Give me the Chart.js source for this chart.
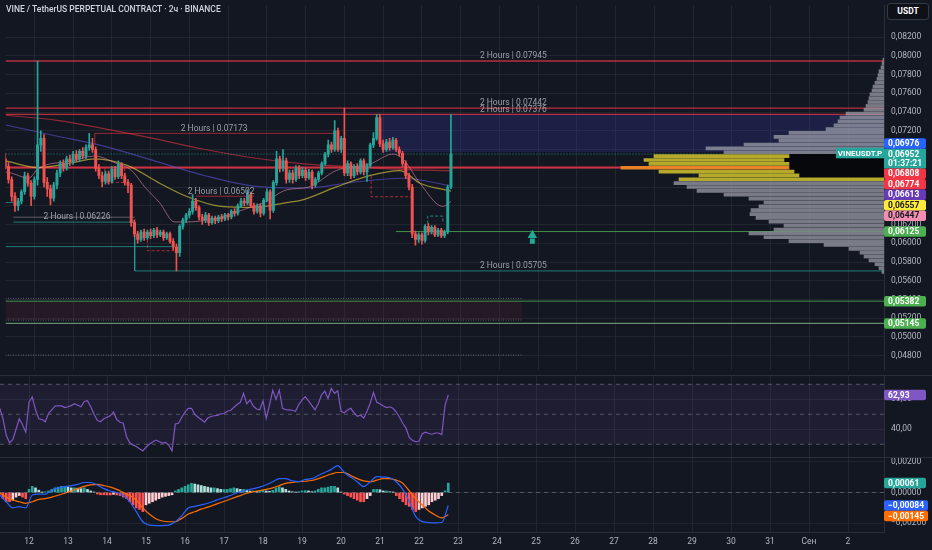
<!DOCTYPE html>
<html>
<head>
  <meta charset="utf-8">
  <title>VINE / TetherUS PERPETUAL CONTRACT · 2ч · BINANCE</title>
  <script src="https://cdn.jsdelivr.net/npm/chart.js"></script>
  <style>
    body { margin: 0; background: #131722; }
    #wrap { position: relative; width: 932px; height: 550px; overflow: hidden; background: #131722; font-family: Roboto, sans-serif; }
    .pane { position: absolute; left: 0; }
    .sep { position: absolute; left: 0; width: 932px; height: 1px; background: #2a2e39; }
    #title { position: absolute; left: 6px; top: 4px; font-size: 8.5px; font-weight: 500; color: #d1d4dc; white-space: nowrap; }
    #unit { position: absolute; left: 887px; top: 3px; width: 40px; height: 15px; border: 1px solid #363a45; border-radius: 3px; background: #0f1118; color: #fff; font-size: 8.5px; font-weight: 700; line-height: 15px; text-align: center; }
  </style>
</head>
<body>
<div id="wrap">
  <div class="pane" style="top:0;width:932px;height:375px"><canvas id="priceChart"></canvas></div>
  <div class="pane" style="top:0;width:884px;height:375px"><canvas id="profileChart"></canvas></div>
  <div class="pane" style="top:375px;width:932px;height:82px"><canvas id="rsiChart"></canvas></div>
  <div class="pane" style="top:457px;width:932px;height:93px"><canvas id="macdChart"></canvas></div>
  <div class="sep" style="top:375px"></div>
  <div class="sep" style="top:457px"></div>
  <div id="title">VINE / TetherUS PERPETUAL CONTRACT · 2ч · BINANCE</div>
  <div id="unit">USDT</div>
</div>

<script>
  const FONT = 'Roboto, "Noto Sans", sans-serif';
  const AXIS_TEXT = '#b2b5be';
  const GRID = 'rgba(42, 46, 57, 0.6)';
  const BORDER = '#2a2e39';
  const UP = '#26a69a';
  const DOWN = '#ef5350';

  // time axis: days of August, then "Сен" (Sep 1) and 2
  const X_MIN = 11.256;
  const X_MAX = 33.923;
  const tickDays = [12, 13, 14, 15, 16, 17, 18, 19, 20, 21, 22, 23, 24, 25, 26, 27, 28, 29, 30, 31, 32, 33];
  const tickLabels = ['12', '13', '14', '15', '16', '17', '18', '19', '20', '21', '22', '23', '24', '25', '26', '27', '28', '29', '30', '31', 'Сен', '2'];
  const candleStart = 11.25;  // Aug 11 06:00
  const candleStep = 1 / 12;  // 2h candles

  // price pane
  const P_MIN = 0.04653;
  const P_MAX = 0.08537;
  const priceTicks = [0.048, 0.05, 0.052, 0.054, 0.056, 0.058, 0.06, 0.062, 0.064, 0.066, 0.068, 0.07, 0.072, 0.074, 0.076, 0.078, 0.08, 0.082];

  const opens = [
    0.0690, 0.0682, 0.0668, 0.0650, 0.0640, 0.0645, 0.0655, 0.0672, 0.0664, 0.0650,
    0.0668, 0.0705, 0.0712, 0.0665, 0.0658, 0.0648, 0.0662, 0.0675, 0.0685, 0.0680,
    0.0690, 0.0687, 0.0695, 0.0690, 0.0698, 0.0693, 0.0702, 0.0705, 0.0700, 0.0680,
    0.0672, 0.0666, 0.0674, 0.0666, 0.0679, 0.0671, 0.0684, 0.0672, 0.0665, 0.0662,
    0.0622, 0.0610, 0.0604, 0.0612, 0.0606, 0.0612, 0.0608, 0.0614, 0.0609, 0.0612,
    0.0606, 0.0610, 0.0602, 0.0596, 0.0590, 0.0618, 0.0625, 0.0630, 0.0634, 0.0645,
    0.0638, 0.0628, 0.0625, 0.0630, 0.0622, 0.0627, 0.0624, 0.0628, 0.0626, 0.0630,
    0.0628, 0.0634, 0.0632, 0.0640, 0.0645, 0.0643, 0.0652, 0.0640, 0.0634, 0.0640,
    0.0632, 0.0646, 0.0655, 0.0635, 0.0665, 0.0690, 0.0680, 0.0688, 0.0668, 0.0675,
    0.0668, 0.0680, 0.0672, 0.0678, 0.0670, 0.0676, 0.0662, 0.0668, 0.0675, 0.0685,
    0.0695, 0.0705, 0.0700, 0.0720, 0.0700, 0.0712, 0.0675, 0.0685, 0.0672, 0.0682,
    0.0676, 0.0688, 0.0676, 0.0683, 0.0705, 0.0712, 0.0734, 0.0706, 0.0700, 0.0708,
    0.0702, 0.0710, 0.0700, 0.0696, 0.0685, 0.0672, 0.0660, 0.0610, 0.0604, 0.0609,
    0.0603, 0.0618, 0.0612, 0.0617, 0.0609, 0.0614, 0.0608, 0.0612, 0.0660
  ];
  const highs = [
    0.0696, 0.0686, 0.0671, 0.0654, 0.0648, 0.0657, 0.0676, 0.0675, 0.0667, 0.0671,
    0.07945, 0.0720, 0.0716, 0.0670, 0.0662, 0.0665, 0.0678, 0.0688, 0.0689, 0.0693,
    0.0694, 0.0698, 0.0699, 0.0700, 0.0702, 0.0705, 0.07173, 0.0712, 0.0703, 0.0684,
    0.0676, 0.0677, 0.0677, 0.0682, 0.0682, 0.0688, 0.0686, 0.0675, 0.0668, 0.0664,
    0.0625, 0.0613, 0.0614, 0.0615, 0.0614, 0.0615, 0.0616, 0.0617, 0.0614, 0.0614,
    0.0612, 0.0612, 0.0605, 0.0599, 0.0620, 0.0627, 0.0632, 0.0637, 0.0652, 0.0648,
    0.0640, 0.0631, 0.0633, 0.0632, 0.0629, 0.0629, 0.0630, 0.0631, 0.0632, 0.0632,
    0.0636, 0.0637, 0.0642, 0.0648, 0.0648, 0.0657, 0.0654, 0.0643, 0.0642, 0.0642,
    0.0648, 0.0658, 0.0657, 0.0667, 0.0698, 0.0693, 0.0700, 0.0691, 0.0678, 0.0678,
    0.0683, 0.0683, 0.0681, 0.0680, 0.0679, 0.0678, 0.0670, 0.0677, 0.0687, 0.0697,
    0.0710, 0.0708, 0.0731, 0.0723, 0.0714, 0.07442, 0.0688, 0.0687, 0.0684, 0.0685,
    0.0690, 0.0690, 0.0685, 0.0707, 0.0718, 0.07376, 0.07376, 0.0710, 0.0711, 0.0712,
    0.0713, 0.0712, 0.0703, 0.0698, 0.0688, 0.0675, 0.0663, 0.0613, 0.0611, 0.0611,
    0.0620, 0.0621, 0.0619, 0.0619, 0.0616, 0.0616, 0.0614, 0.0662, 0.07376
  ];
  const lows = [
    0.0679, 0.0664, 0.0645, 0.0634, 0.0635, 0.0642, 0.0652, 0.0661, 0.0640, 0.0647,
    0.0662, 0.0698, 0.0660, 0.0650, 0.0641, 0.0645, 0.0658, 0.0671, 0.0677, 0.0678,
    0.0683, 0.0684, 0.0687, 0.0687, 0.0690, 0.0690, 0.0699, 0.0697, 0.0677, 0.0669,
    0.0660, 0.0663, 0.0663, 0.0664, 0.0668, 0.0669, 0.0669, 0.0662, 0.0654, 0.0618,
    0.0607, 0.0600, 0.0602, 0.0603, 0.0604, 0.0605, 0.0606, 0.0606, 0.0607, 0.0603,
    0.0604, 0.0600, 0.0593, 0.05705, 0.0586, 0.0615, 0.0622, 0.0627, 0.0631, 0.0635,
    0.0625, 0.0620, 0.0622, 0.0619, 0.0620, 0.0621, 0.0622, 0.0623, 0.0624, 0.0625,
    0.0626, 0.0629, 0.0630, 0.0638, 0.0640, 0.0641, 0.0638, 0.0631, 0.0632, 0.0628,
    0.0630, 0.0644, 0.0626, 0.0633, 0.0662, 0.0676, 0.0677, 0.0664, 0.0665, 0.0664,
    0.0666, 0.0669, 0.0670, 0.0667, 0.0668, 0.0658, 0.0660, 0.0666, 0.0673, 0.0683,
    0.0692, 0.0697, 0.0698, 0.0698, 0.0697, 0.0672, 0.0672, 0.0669, 0.0670, 0.0673,
    0.0674, 0.0673, 0.0666, 0.0681, 0.0702, 0.0710, 0.0703, 0.0697, 0.0698, 0.0699,
    0.0700, 0.0698, 0.0693, 0.0682, 0.0669, 0.0657, 0.0606, 0.0598, 0.0601, 0.0599,
    0.0601, 0.0609, 0.0610, 0.0607, 0.0607, 0.0606, 0.0606, 0.0610, 0.0658
  ];
  const closes = [
    0.0682, 0.0668, 0.0650, 0.0640, 0.0645, 0.0655, 0.0672, 0.0664, 0.0650, 0.0668,
    0.0705, 0.0712, 0.0665, 0.0658, 0.0648, 0.0662, 0.0675, 0.0685, 0.0680, 0.0690,
    0.0687, 0.0695, 0.0690, 0.0698, 0.0693, 0.0702, 0.0705, 0.0700, 0.0680, 0.0672,
    0.0666, 0.0674, 0.0666, 0.0679, 0.0671, 0.0684, 0.0672, 0.0665, 0.0662, 0.0622,
    0.0610, 0.0604, 0.0612, 0.0606, 0.0612, 0.0608, 0.0614, 0.0609, 0.0612, 0.0606,
    0.0610, 0.0602, 0.0596, 0.0590, 0.0618, 0.0625, 0.0630, 0.0634, 0.0645, 0.0638,
    0.0628, 0.0625, 0.0630, 0.0622, 0.0627, 0.0624, 0.0628, 0.0626, 0.0630, 0.0628,
    0.0634, 0.0632, 0.0640, 0.0645, 0.0643, 0.0652, 0.0640, 0.0634, 0.0640, 0.0632,
    0.0646, 0.0655, 0.0635, 0.0665, 0.0690, 0.0680, 0.0688, 0.0668, 0.0675, 0.0668,
    0.0680, 0.0672, 0.0678, 0.0670, 0.0676, 0.0662, 0.0668, 0.0675, 0.0685, 0.0695,
    0.0705, 0.0700, 0.0720, 0.0700, 0.0712, 0.0675, 0.0685, 0.0672, 0.0682, 0.0676,
    0.0688, 0.0676, 0.0683, 0.0705, 0.0712, 0.0734, 0.0706, 0.0700, 0.0708, 0.0702,
    0.0710, 0.0700, 0.0696, 0.0685, 0.0672, 0.0660, 0.0610, 0.0604, 0.0609, 0.0603,
    0.0618, 0.0612, 0.0617, 0.0609, 0.0614, 0.0608, 0.0612, 0.0660, 0.06952
  ];
  const countdown = '01:37:21';

  // moving averages, [day, price]
  const maSlow = [[11.26, 0.07366], [12.54, 0.07314], [13.82, 0.07221], [15.1, 0.07117], [16.38, 0.07003],
    [17.67, 0.0691], [18.95, 0.06848], [20.23, 0.06817], [21.51, 0.06786], [22.75, 0.06774]];
  const maMid = [[11.26, 0.07262], [12.54, 0.07148], [13.82, 0.07034], [15.1, 0.06879], [16.38, 0.06724],
    [17.67, 0.0661], [18.95, 0.06589], [20.23, 0.06651], [21.51, 0.06693], [22.75, 0.06613]];
  const maFast = [[11.26, 0.06879], [12.1, 0.06807], [12.97, 0.06859], [13.56, 0.069], [14.41, 0.06828],
    [15.23, 0.06641], [15.95, 0.06496], [16.82, 0.06393], [17.67, 0.06382], [18.51, 0.06434], [18.95, 0.06466],
    [19.79, 0.06601], [20.67, 0.06724], [21.44, 0.06776], [21.95, 0.06641], [22.75, 0.06557]];
  const maShort = [[11.26, 0.0676], [11.44, 0.06745], [11.85, 0.06693], [12.1, 0.06797], [12.97, 0.06879],
    [13.56, 0.06931], [14.08, 0.06859], [14.51, 0.06776], [14.85, 0.066], [15.23, 0.06434], [15.62, 0.06227],
    [15.95, 0.06227], [16.82, 0.06279], [17.41, 0.06361], [17.92, 0.06434], [18.51, 0.0657], [19.08, 0.066],
    [19.79, 0.06776], [20.67, 0.06848], [21.26, 0.06952], [21.51, 0.069], [21.95, 0.06641], [22.54, 0.06393],
    [22.75, 0.06447]];

  // "2 Hours" high / low levels
  const fullLevels = [0.07945, 0.07442, 0.07376];
  const labelDays = [24.36, 24.36, 24.36, 16.64, 16.82, 13.1, 24.36];
  const labelPrices = [0.07945, 0.07442, 0.07376, 0.07173, 0.06502, 0.06226, 0.05705];
  const blueZone = [20.95, 0.0697, 0.07376];
  const redZone = [24.59, 0.0518, 0.0538];
  const supportLevels = [0.05382, 0.05145];

  // volume profile rows from 0.0572 upward, step 0.0004
  const vpLow = 0.0572;
  const vpStep = 0.0004;
  const vpVolume = [2, 5, 9, 15, 20, 24, 35, 60, 95, 120,
    135, 110, 100, 115, 128, 134, 133, 125, 120, 135,
    160, 187, 197, 210, 205, 185, 225, 263, 235, 240,
    230, 160, 178, 140, 105, 110, 95, 58, 50, 46,
    44, 38, 20, 18, 16, 15, 14, 12, 11, 9,
    7, 6, 5, 3, 2, 1];
  const vaFirstRow = 24;
  const pocRow = 27;
  const vaDown = [0, 85, 90, 95, 95, 100, 95];
  const vpAxisMax = 884;

  // RSI, one value per candle
  const rsi = [
    54, 47, 36, 31, 33, 40, 47, 43, 38, 58,
    61.5, 53, 47, 46.5, 45, 50.5, 53, 55.5, 55.7, 55.6,
    54.5, 55, 55.8, 57, 56, 55, 58.5, 59, 55, 50,
    46, 45, 47, 48, 49, 51.5, 46.5, 44.7, 44, 35,
    31, 29.6, 28.5, 27, 25.6, 28, 30, 31.5, 32.8, 31.8,
    30.8, 31.2, 29.3, 25.6, 43.5, 44, 48, 51.5, 54, 54,
    50, 48, 46.5, 44.7, 47.5, 48.5, 49, 49.3, 50.3, 50.5,
    52, 52.5, 54.5, 56.5, 58, 64, 57, 59.5, 55.5, 53.5,
    53, 59, 47.3, 56.2, 66, 60, 66.2, 54, 53, 52.9,
    52.7, 52, 56.5, 59.5, 61.8, 59, 56, 53, 57, 63,
    65.5, 60.5, 67.3, 64, 65.6, 52, 51, 52.8, 54, 51,
    48.6, 49.4, 47.5, 52, 57.5, 64.5, 58, 57, 55.5, 54.5,
    55, 54, 51.5, 48, 44, 40.8, 34.5, 32.5, 31.8, 32,
    37, 38, 37.2, 36.7, 37.5, 37.5, 36.5, 56, 62.93
  ];

  // MACD and signal, every second candle
  const macd = [
    -0.00016, -0.0006, -0.001, -0.00092, -0.001, -0.00016, -0.0001, -0.0001, 0.00015, 0.0003,
    0.00038, 0.00045, 0.00053, 0.00065, 0.00065, 0.00049, 0.00025, 0.0001, 0.0, -0.0002,
    -0.0006, -0.00124, -0.0019, -0.00212, -0.00215, -0.00215, -0.00212, -0.0019, -0.0015, -0.001,
    -0.0009, -0.0008, -0.0007, -0.00055, -0.0004, -0.00027, -0.0001, 0.00005, 0.00016, 0.00025,
    0.00035, 0.0005, 0.0007, 0.0009, 0.0009, 0.00075, 0.0007, 0.00085, 0.0009, 0.0011,
    0.0013, 0.0015, 0.00174, 0.0013, 0.001, 0.0007, 0.00038, 0.0007, 0.00103, 0.001,
    0.00096, 0.0007, 0.0002, -0.00059, -0.00157, -0.00189, -0.00195, -0.00197, -0.00195, -0.00084
  ];
  const signal = [
    -0.00005, -0.0003, -0.00049, -0.0006, -0.0007, -0.0006, -0.00045, -0.0004, -0.0003, -0.00018,
    -0.00005, 0.0001, 0.00025, 0.0004, 0.0005, 0.00053, 0.00045, 0.00035, 0.0002, 0.0,
    -0.0002, -0.0005, -0.001, -0.0014, -0.0017, -0.00185, -0.0019, -0.0019, -0.00168, -0.0014,
    -0.00125, -0.00108, -0.00095, -0.0008, -0.00065, -0.0005, -0.00035, -0.0002, -0.00005, 0.00005,
    0.00013, 0.0002, 0.0003, 0.00045, 0.00059, 0.00065, 0.0007, 0.00073, 0.00078, 0.0009,
    0.00105, 0.0012, 0.0013, 0.0013, 0.0011, 0.0009, 0.00075, 0.0007, 0.0008, 0.0009,
    0.0009, 0.0008, 0.0006, 0.0001, -0.0004, -0.00081, -0.0012, -0.00146, -0.00165, -0.00145
  ];
  // histogram, one bar per candle
  const hist = [
    -0.0001, -0.0004, -0.0006, -0.0006, -0.0005, -0.0003, -0.0002, -0.0003, -0.0004, 0.0002,
    0.0004, 0.0003, 0.00015, 0.00002, 0.00005, 0.0001, 0.0002, 0.0003, 0.00035, 0.0004,
    0.0004, 0.00035, 0.0003, 0.0003, 0.00028, 0.00025, 0.0003, 0.0002, 0.0001, 0.00002,
    -0.0001, -0.00015, -0.00015, -0.00016, -0.00016, -0.00012, -0.00016, -0.0002, -0.0003, -0.0004,
    -0.0006, -0.0008, -0.001, -0.0011, -0.00124, -0.0008, -0.0007, -0.0006, -0.0005, -0.0004,
    -0.0003, -0.00025, -0.0002, -0.00015, 0.0001, 0.0002, 0.0003, 0.0004, 0.0005, 0.0006,
    0.00055, 0.0005, 0.00045, 0.0004, 0.00035, 0.0003, 0.0003, 0.00025, 0.0002, 0.0002,
    0.0002, 0.00025, 0.0003, 0.00025, 0.0002, 0.0002, 0.00015, 0.0001, 0.0001, 0.00008,
    0.0001, 0.00015, 0.0001, 0.00008, 0.00015, 0.0003, 0.00038, 0.0003, 0.0002, 0.0001,
    0.00005, 0.00002, 0.00005, 0.0001, 0.00012, 0.0001, 0.00005, 0.0001, 0.0002, 0.0003,
    0.0003, 0.00035, 0.0004, 0.0004, 0.0003, 0.00002, -0.0001, -0.0002, -0.0003, -0.0004,
    -0.0005, -0.0006, -0.0006, -0.0004, -0.0002, 0.0002, 0.0002, 0.00018, 0.0001, 0.0001,
    0.00005, 0.00002, -0.0002, -0.0004, -0.0006, -0.0008, -0.0009, -0.0011, -0.00124, -0.0011,
    -0.001, -0.0009, -0.0008, -0.0006, -0.0005, -0.0004, -0.0002, 0.0001, 0.00061
  ];

  const day = i => candleStart + i * candleStep;
  const lastPrice = closes[closes.length - 1];
  const priceFmt = v => (v < 0 ? '\u2212' : '') + Math.abs(v).toFixed(5).replace('.', ',');
  const pts = arr => arr.map(p => ({ x: p[0], y: p[1] }));
  const hline = (x0, x1, v) => [{ x: x0, y: v }, { x: x1, y: v }];
  const seg = list => list.map(p => ({ x: p[0], y: p[1] }));

  function lineSet(data, color, width, dash, order, smooth) {
    return {
      type: 'line', data: data, borderColor: color, borderWidth: width, borderDash: dash || [],
      pointRadius: 0, fill: false, order: order || 6, tension: 0,
      cubicInterpolationMode: smooth ? 'monotone' : 'default'
    };
  }

  function timeScale(showLabels) {
    return {
      type: 'linear', min: X_MIN, max: X_MAX, offset: false,
      grid: { color: GRID, drawTicks: false, offset: false },
      border: { display: showLabels, color: BORDER },
      ticks: {
        display: showLabels, color: AXIS_TEXT, font: { size: 8.5, family: FONT }, padding: 5,
        maxRotation: 0, autoSkip: false,
        callback: v => tickLabels[tickDays.indexOf(v)]
      },
      afterBuildTicks: s => { s.ticks = tickDays.map(v => ({ value: v })); },
      afterFit: s => { s.height = showLabels ? 18 : 0; s.paddingLeft = 0; s.paddingRight = 0; }
    };
  }

  function valueScale(min, max, ticks, fmt) {
    return {
      type: 'linear', position: 'right', min: min, max: max,
      grid: { color: GRID, drawTicks: false },
      border: { color: BORDER },
      ticks: { color: AXIS_TEXT, font: { size: 8.5, family: FONT }, padding: 7, callback: fmt },
      afterBuildTicks: s => { s.ticks = ticks.map(v => ({ value: v })); },
      afterFit: s => { s.width = 48; s.paddingTop = 0; s.paddingBottom = 0; }
    };
  }

  function baseOptions(scales) {
    return {
      responsive: true, maintainAspectRatio: false, animation: false, events: [],
      layout: { padding: 0 },
      plugins: { legend: { display: false }, tooltip: { enabled: false } },
      scales: scales
    };
  }

  // price tags on the right scale, pushed apart like on the original
  function spreadTags(items, anchorY, fixedTop, fixedBottom, h) {
    const above = items.filter(t => t.y < anchorY).sort((a, b) => b.y - a.y);
    let limit = fixedTop;
    above.forEach(t => { t.y = Math.min(t.y, limit - h / 2); limit = t.y - h / 2; });
    const below = items.filter(t => t.y >= anchorY).sort((a, b) => a.y - b.y);
    limit = fixedBottom;
    below.forEach(t => { t.y = Math.max(t.y, limit + h / 2); limit = t.y + h / 2; });
  }

  function drawTag(ctx, x, yc, h, text, bg, fg) {
    const w = Math.max(42, ctx.measureText(text).width + 8);
    ctx.fillStyle = bg;
    ctx.beginPath();
    if (ctx.roundRect) ctx.roundRect(x, yc - h / 2, w, h, 2); else ctx.rect(x, yc - h / 2, w, h);
    ctx.fill();
    ctx.fillStyle = fg;
    ctx.fillText(text, x + 4, yc + 0.5);
  }

  function tagPlugin(id, getTags, anchor) {
    return {
      id: id,
      afterDraw(chart) {
        const { ctx, chartArea } = chart;
        const y = chart.scales.y;
        const h = 10.5;
        const items = getTags().map(t => Object.assign({}, t, { y: y.getPixelForValue(t.value) }));
        ctx.save();
        ctx.font = 'bold 8.5px ' + FONT;
        ctx.textAlign = 'left';
        ctx.textBaseline = 'middle';
        if (anchor) {
          const ay = y.getPixelForValue(anchor.value);
          spreadTags(items, ay, ay - 5.25, ay + 14.5, h);
          ctx.fillStyle = UP;
          ctx.fillRect(chartArea.right, ay - 5.25, 42, 19.75);
          ctx.fillStyle = '#fff';
          ctx.fillText(priceFmt(anchor.value), chartArea.right + 4, ay + 0.5);
          ctx.fillText(anchor.sub, chartArea.right + 4, ay + 10);
        } else {
          spreadTags(items, -Infinity, -Infinity, -Infinity, h);
        }
        items.forEach(t => drawTag(ctx, chartArea.right, t.y, h, t.text, t.bg, t.fg || '#fff'));
        ctx.restore();
      }
    };
  }

  const levelText = {
    id: 'levelText',
    afterDatasetsDraw(chart) {
      const { ctx, scales: { x, y } } = chart;
      ctx.save();
      ctx.font = '8.5px ' + FONT;
      ctx.fillStyle = 'rgba(178, 181, 190, 0.85)';
      ctx.textAlign = 'center';
      ctx.textBaseline = 'bottom';
      labelPrices.forEach((p, i) => {
        ctx.fillText('2 Hours | ' + p.toFixed(5), x.getPixelForValue(labelDays[i]), y.getPixelForValue(p) - 0.5);
      });
      ctx.restore();
    }
  };

  // ---------- price pane ----------
  const candleColors = opens.map((o, i) => closes[i] >= o ? UP : DOWN);
  const LEVEL_RED = 'rgba(242, 54, 69, 0.75)';
  const LEVEL_TEAL = 'rgba(38, 166, 154, 0.7)';
  const LEVEL_GREEN = 'rgba(76, 175, 80, 0.8)';
  const DOTS = 'rgba(178, 181, 190, 0.45)';

  const priceDatasets = [
    { type: 'bar', data: opens.map((o, i) => ({ x: day(i), y: [o, closes[i]] })), backgroundColor: candleColors,
      barThickness: 2.3, minBarLength: 1, grouped: false, order: 1 },
    { type: 'bar', data: lows.map((l, i) => ({ x: day(i), y: [l, highs[i]] })), backgroundColor: candleColors,
      barThickness: 1, grouped: false, order: 2 },
    lineSet(pts(maShort), 'rgba(244, 143, 177, 0.55)', 1, null, 3, true),
    lineSet(pts(maFast), 'rgba(235, 215, 60, 0.6)', 1.2, null, 3, true),
    lineSet(pts(maMid), 'rgba(92, 84, 214, 0.6)', 1.1, null, 3, true),
    lineSet(pts(maSlow), 'rgba(242, 54, 69, 0.55)', 1.2, null, 3, true),
    lineSet(hline(X_MIN, X_MAX, fullLevels[0]), LEVEL_RED, 1.3),
    lineSet(hline(X_MIN, X_MAX, fullLevels[1]), LEVEL_RED, 1.3),
    lineSet(hline(X_MIN, X_MAX, fullLevels[2]), LEVEL_RED, 1.3),
    lineSet(hline(X_MIN, X_MAX, 0.06808), 'rgba(242, 54, 69, 0.85)', 2),
    lineSet(seg([[13.56, 0.0705], [13.56, 0.07173], [19.72, 0.07173]]), 'rgba(242, 54, 69, 0.6)', 1),
    lineSet(hline(16.18, 17.67, 0.06502), 'rgba(242, 54, 69, 0.6)', 1),
    lineSet(hline(11.46, 14.59, 0.06278), 'rgba(178, 181, 190, 0.45)', 1),
    lineSet(seg([[11.46, 0.06226], [14.59, 0.06226], [14.59, 0.05705], [X_MAX, 0.05705]]), LEVEL_TEAL, 1),
    lineSet(hline(X_MIN, 15.62, 0.05964), LEVEL_TEAL, 1),
    lineSet(hline(X_MIN, 11.46, 0.06434), LEVEL_TEAL, 1),
    lineSet(hline(21.33, X_MAX, 0.06125), LEVEL_GREEN, 1),
    lineSet(hline(X_MIN, X_MAX, supportLevels[0]), LEVEL_GREEN, 1),
    lineSet(hline(X_MIN, X_MAX, supportLevels[1]), 'rgba(120, 170, 130, 0.8)', 1.3),
    lineSet(hline(X_MIN, 24.59, 0.05411), DOTS, 1, [1, 1.5]),
    lineSet(hline(X_MIN, 24.59, 0.0518), DOTS, 1, [1, 1.5]),
    lineSet(hline(X_MIN, 24.59, 0.04807), DOTS, 1, [1, 1.5]),
    lineSet(hline(X_MIN, X_MAX, lastPrice), 'rgba(38, 166, 154, 0.8)', 1, [1, 2]),
    // dashed swing boxes
    lineSet(seg([[20.69, 0.0672], [20.69, 0.06496], [21.72, 0.06496]]), 'rgba(242, 54, 69, 0.7)', 1, [3, 2]),
    lineSet(seg([[13.82, 0.068], [13.82, 0.0665], [14.33, 0.0665], [14.33, 0.068]]), 'rgba(242, 54, 69, 0.7)', 1, [3, 2]),
    lineSet(seg([[14.92, 0.0609], [14.92, 0.0592], [15.62, 0.0592]]), 'rgba(242, 54, 69, 0.7)', 1, [3, 2]),
    lineSet(seg([[22.15, 0.0621], [22.15, 0.0629], [22.54, 0.0629], [22.54, 0.0621]]), 'rgba(38, 166, 154, 0.8)', 1, [3, 2]),
    // signal arrow
    { type: 'line', data: [{ x: 24.85, y: 0.06085 }], pointStyle: 'triangle', pointRadius: 5.5,
      pointBackgroundColor: '#22ab94', pointBorderWidth: 0, showLine: false, order: 1 },
    lineSet([{ x: 24.85, y: 0.05995 }, { x: 24.85, y: 0.0605 }], '#22ab94', 5, null, 1),
    // zones
    { type: 'line', data: hline(blueZone[0], X_MAX, blueZone[2]), borderWidth: 0, pointRadius: 0,
      fill: { value: blueZone[1] }, backgroundColor: 'rgba(63, 72, 204, 0.2)', order: 20 },
    { type: 'line', data: hline(X_MIN, redZone[0], redZone[2]), borderWidth: 0, pointRadius: 0,
      fill: { value: redZone[1] }, backgroundColor: 'rgba(140, 40, 60, 0.15)', order: 20 }
  ];

  const priceTags = () => [
    { value: 0.06976, bg: '#2962ff' },
    { value: 0.06808, bg: '#f23645' },
    { value: maSlow[maSlow.length - 1][1], bg: '#f23645' },
    { value: maMid[maMid.length - 1][1], bg: '#673ab7' },
    { value: maFast[maFast.length - 1][1], bg: '#ffeb3b', fg: '#131722' },
    { value: maShort[maShort.length - 1][1], bg: '#f48fb1', fg: '#131722' },
    { value: 0.06125, bg: '#4caf50' },
    { value: supportLevels[0], bg: '#4caf50' },
    { value: supportLevels[1], bg: '#4caf50' }
  ].map(t => Object.assign(t, { text: priceFmt(t.value) }));

  new Chart(document.getElementById('priceChart'), {
    type: 'bar',
    data: { datasets: priceDatasets },
    options: baseOptions({ x: timeScale(false), y: valueScale(P_MIN, P_MAX, priceTicks, v => priceFmt(v)) }),
    plugins: [levelText, tagPlugin('priceTags', priceTags, { value: lastPrice, sub: countdown })]
  });

  // ---------- visible range volume profile ----------
  const vpRows = vpVolume.map((v, k) => ({ v: v, p: vpLow + k * vpStep, k: k }));
  const vaRows = vpRows.filter(r => r.k >= vaFirstRow && r.k < vaFirstRow + vaDown.length);
  const tickerTag = {
    id: 'tickerTag',
    afterDraw(chart) {
      const { ctx, chartArea } = chart;
      const yc = chart.scales.y.getPixelForValue(lastPrice);
      ctx.save();
      ctx.fillStyle = UP;
      ctx.fillRect(chartArea.right - 48, yc - 5.25, 48, 10.5);
      ctx.fillStyle = '#fff';
      ctx.font = 'bold 8px ' + FONT;
      ctx.textAlign = 'center';
      ctx.textBaseline = 'middle';
      ctx.fillText('VINEUSDT.P', chartArea.right - 24, yc + 0.5);
      ctx.restore();
    }
  };

  const vpOptions = baseOptions({
    x: { type: 'linear', min: 0, max: vpAxisMax, reverse: true, display: false },
    y: { type: 'linear', min: P_MIN, max: P_MAX, display: false, offset: false }
  });
  vpOptions.indexAxis = 'y';

  new Chart(document.getElementById('profileChart'), {
    type: 'bar',
    data: {
      datasets: [
        { data: vpRows.filter(r => !vaRows.includes(r)).map(r => ({ x: r.v, y: r.p })),
          backgroundColor: 'rgba(155, 158, 168, 0.75)', barThickness: 3, grouped: false },
        { data: vaRows.map(r => ({ x: [vaDown[r.k - vaFirstRow], r.v], y: r.p })),
          backgroundColor: vaRows.map(r => r.k === pocRow ? 'rgba(240, 140, 40, 0.9)' : 'rgba(210, 195, 45, 0.85)'),
          barThickness: 3, grouped: false },
        { data: vaRows.map(r => ({ x: [0, vaDown[r.k - vaFirstRow]], y: r.p })),
          backgroundColor: '#07080c', barThickness: 3.9, grouped: false }
      ]
    },
    options: vpOptions,
    plugins: [tickerTag]
  });

  // ---------- RSI pane ----------
  new Chart(document.getElementById('rsiChart'), {
    type: 'line',
    data: {
      datasets: [
        lineSet(rsi.map((v, i) => ({ x: day(i), y: v })), '#7e57c2', 1.2, null, 1),
        lineSet(hline(X_MIN, X_MAX, 70), 'rgba(120, 123, 134, 0.6)', 1, [4, 4], 2),
        lineSet(hline(X_MIN, X_MAX, 50), 'rgba(120, 123, 134, 0.6)', 1, [4, 4], 2),
        lineSet(hline(X_MIN, X_MAX, 30), 'rgba(120, 123, 134, 0.6)', 1, [4, 4], 2),
        { type: 'line', data: hline(X_MIN, X_MAX, 70), borderWidth: 0, pointRadius: 0,
          fill: { value: 30 }, backgroundColor: 'rgba(126, 87, 194, 0.1)', order: 10 }
      ]
    },
    options: baseOptions({ x: timeScale(false), y: valueScale(21.5, 76.2, [40, 60], v => v.toFixed(2).replace('.', ',')) }),
    plugins: [tagPlugin('rsiTag', () => [{ value: rsi[rsi.length - 1], bg: '#7e57c2', text: rsi[rsi.length - 1].toFixed(2).replace('.', ',') }])]
  });

  // ---------- MACD pane ----------
  const histColors = hist.map((v, i) => {
    const prev = i > 0 ? hist[i - 1] : v;
    if (v >= 0) return v >= prev ? '#26a69a' : '#b2dfdb';
    return v <= prev ? '#ff5252' : '#ffcdd2';
  });

  new Chart(document.getElementById('macdChart'), {
    type: 'bar',
    data: {
      datasets: [
        lineSet(macd.map((v, k) => ({ x: day(2 * k), y: v })), '#2962ff', 1.2, null, 1, true),
        lineSet(signal.map((v, k) => ({ x: day(2 * k), y: v })), '#ff6d00', 1.2, null, 2, true),
        { type: 'bar', data: hist.map((v, i) => ({ x: day(i), y: v })), backgroundColor: histColors,
          barThickness: 2, grouped: false, order: 3 },
        lineSet(hline(X_MIN, X_MAX, 0), 'rgba(120, 123, 134, 0.6)', 1, [4, 4], 4)
      ]
    },
    options: baseOptions({ x: timeScale(true), y: valueScale(-0.002565, 0.002305, [-0.002, 0, 0.002], v => priceFmt(v)) }),
    plugins: [tagPlugin('macdTags', () => [
      { value: hist[hist.length - 1], bg: '#26a69a' },
      { value: macd[macd.length - 1], bg: '#2962ff' },
      { value: signal[signal.length - 1], bg: '#ff6d00' }
    ].map(t => Object.assign(t, { text: priceFmt(t.value) })))]
  });
</script>
</body>
</html>
